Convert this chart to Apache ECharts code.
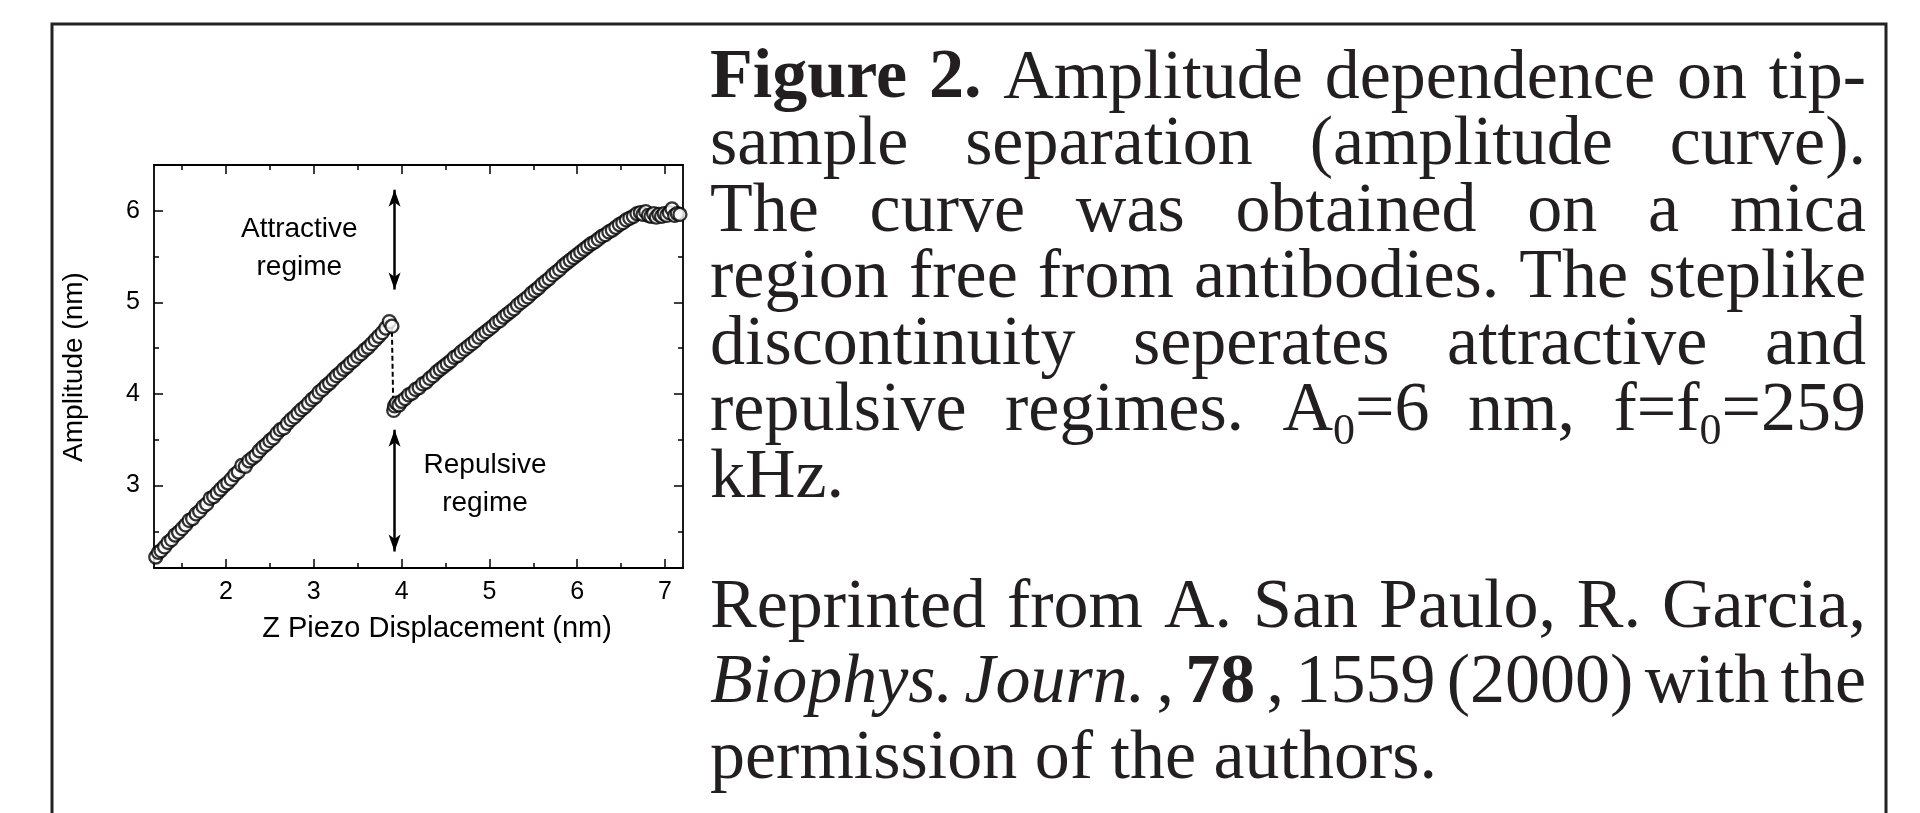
<!DOCTYPE html>
<html>
<head>
<meta charset="utf-8">
<title>Amplitude curve</title>
<script src="https://cdn.jsdelivr.net/npm/echarts@6/dist/echarts.min.js"></script>
<style>
html, body { margin: 0; padding: 0; background: #fff; }
#chart { width: 1920px; height: 813px; }
</style>
</head>
<body>
<div id="chart"></div>
<script>
// attractive branch (before the jump)
var attractX = [1.20, 1.23, 1.26, 1.30, 1.34, 1.38, 1.42, 1.46, 1.50, 1.54, 1.58, 1.62, 1.66, 1.70, 1.74, 1.78,
    1.82, 1.86, 1.90, 1.94, 1.98, 2.02, 2.06, 2.10, 2.14, 2.18, 2.22, 2.26, 2.30, 2.34, 2.38, 2.42, 2.46, 2.50,
    2.54, 2.58, 2.62, 2.66, 2.70, 2.74, 2.78, 2.82, 2.86, 2.90, 2.94, 2.98, 3.02, 3.06, 3.10, 3.14, 3.18, 3.22,
    3.26, 3.30, 3.34, 3.38, 3.42, 3.46, 3.50, 3.54, 3.58, 3.62, 3.66, 3.70, 3.74, 3.78, 3.82, 3.86, 3.89];
var attractY = [2.22, 2.27, 2.29, 2.33, 2.38, 2.41, 2.46, 2.49, 2.53, 2.57, 2.62, 2.64, 2.69, 2.72, 2.77, 2.80,
    2.86, 2.88, 2.92, 2.96, 3.00, 3.03, 3.07, 3.12, 3.15, 3.22, 3.21, 3.27, 3.30, 3.33, 3.38, 3.42, 3.45, 3.49,
    3.52, 3.57, 3.61, 3.63, 3.68, 3.72, 3.75, 3.79, 3.83, 3.86, 3.90, 3.94, 3.97, 4.02, 4.05, 4.09, 4.12, 4.16,
    4.20, 4.23, 4.27, 4.30, 4.34, 4.37, 4.41, 4.44, 4.48, 4.51, 4.55, 4.59, 4.63, 4.67, 4.72, 4.79, 4.74];

// repulsive branch (after the jump)
var repulseX = [3.91, 3.92, 3.94, 3.97, 4.00, 4.04, 4.08, 4.12, 4.16, 4.20, 4.24, 4.28, 4.32, 4.36, 4.40, 4.44,
    4.48, 4.52, 4.56, 4.60, 4.64, 4.68, 4.72, 4.76, 4.80, 4.84, 4.88, 4.92, 4.96, 5.00, 5.04, 5.08, 5.12, 5.16,
    5.20, 5.24, 5.28, 5.32, 5.36, 5.40, 5.44, 5.48, 5.52, 5.56, 5.60, 5.64, 5.68, 5.72, 5.76, 5.80, 5.84, 5.88,
    5.92, 5.96, 6.00, 6.04, 6.08, 6.12, 6.16, 6.20, 6.24, 6.28, 6.32, 6.36, 6.40, 6.44, 6.48, 6.52, 6.56, 6.60,
    6.64, 6.68, 6.72, 6.75, 6.78, 6.81, 6.84, 6.87, 6.90, 6.93, 6.96, 6.99, 7.02, 7.05, 7.08, 7.11, 7.14, 7.17];
var repulseY = [3.82, 3.87, 3.90, 3.88, 3.92, 3.95, 3.99, 4.01, 4.05, 4.07, 4.11, 4.13, 4.17, 4.20, 4.24, 4.27,
    4.30, 4.33, 4.36, 4.40, 4.42, 4.46, 4.49, 4.52, 4.55, 4.58, 4.62, 4.65, 4.68, 4.71, 4.74, 4.78, 4.80, 4.84,
    4.87, 4.90, 4.93, 4.97, 5.00, 5.03, 5.06, 5.10, 5.13, 5.16, 5.20, 5.23, 5.26, 5.30, 5.33, 5.36, 5.40, 5.43,
    5.46, 5.49, 5.52, 5.55, 5.58, 5.61, 5.64, 5.66, 5.69, 5.72, 5.74, 5.77, 5.79, 5.82, 5.85, 5.87, 5.90, 5.92,
    5.94, 5.97, 5.98, 5.96, 5.99, 5.95, 5.94, 5.97, 5.93, 5.96, 5.94, 5.97, 5.95, 5.98, 6.02, 5.95, 5.97, 5.96];

// dashed step between the two regimes
var jumpX = [3.89, 3.905];
var jumpY = [4.68, 3.87];

// double arrows
var arrowX = 3.92;
var arrowUp = [6.23, 5.14];
var arrowDown = [3.61, 2.28];

// annotations inside the plot
var noteText = ['Attractive\nregime', 'Repulsive\nregime'];
var noteX = [2.835, 4.95];
var noteY = [5.595, 3.01];

// axes
var X_MIN = 1.18, X_MAX = 7.205, Y_MIN = 2.1, Y_MAX = 6.5;
var xTicks = [2, 3, 4, 5, 6, 7];
var xMinor = [1.5, 2.5, 3.5, 4.5, 5.5, 6.5];
var yTicks = [3, 4, 5, 6];
var yMinor = [2.5, 3.5, 4.5, 5.5];
var xTitle = 'Z Piezo Displacement (nm)';
var yTitle = 'Amplitude (nm)';

// caption: *bold*, _italic_, {subscript}
var captionA = [
    '*Figure* *2.* Amplitude dependence on tip-',
    'sample separation (amplitude curve).',
    'The curve was obtained on a mica',
    'region free from antibodies. The steplike',
    'discontinuity seperates attractive and',
    'repulsive regimes. A{0}=6 nm, f=f{0}=259',
    'kHz.'
];
var captionB = [
    'Reprinted from A. San Paulo, R. Garcia,',
    '_Biophys._ _Journ._ , *78* , 1559 (2000) with the',
    'permission of the authors.'
];

function pairs(xs, ys) {
    return xs.map(function (x, i) { return [x, ys[i]]; });
}

var SANS = "'Liberation Sans', Arial, sans-serif";
var SERIF = "'Liberation Serif', 'Times New Roman', serif";
var tickStyle = {color: '#000', width: 1.5};

function xAxisCfg(grid, pos, values, len, main, labels) {
    return {
        gridIndex: grid, type: 'value', position: pos, min: X_MIN, max: X_MAX,
        axisLine: {show: main, lineStyle: {color: '#000', width: 1.8}},
        axisTick: {show: true, inside: true, length: len, customValues: values, lineStyle: tickStyle},
        axisLabel: labels ? {show: true, customValues: values, margin: 12, color: '#000',
            fontSize: 25, fontFamily: SANS} : {show: false},
        splitLine: {show: false}
    };
}
function yAxisCfg(grid, pos, values, len, main, labels) {
    return {
        gridIndex: grid, type: 'value', position: pos, min: Y_MIN, max: Y_MAX,
        axisLine: {show: main, lineStyle: {color: '#000', width: 1.8}},
        axisTick: {show: true, inside: true, length: len, customValues: values, lineStyle: tickStyle},
        axisLabel: labels ? {show: true, customValues: values, margin: 14, color: '#000',
            fontSize: 25, fontFamily: SANS} : {show: false},
        splitLine: {show: false}
    };
}

var circle = {color: '#fff', borderColor: '#000', borderWidth: 2.3};

var chart = echarts.init(document.getElementById('chart'));
chart.setOption({
    animation: false,
    backgroundColor: '#fff',
    grid: [
        {left: 154, top: 165, width: 529, height: 403},
        {left: 154, top: 165, width: 529, height: 403}
    ],
    xAxis: [
        xAxisCfg(0, 'bottom', xTicks, 9, true, true),
        xAxisCfg(0, 'top', xTicks, 9, true, false),
        xAxisCfg(1, 'bottom', xMinor, 5, false, false),
        xAxisCfg(1, 'top', xMinor, 5, false, false)
    ],
    yAxis: [
        yAxisCfg(0, 'left', yTicks, 9, true, true),
        yAxisCfg(0, 'right', yTicks, 9, true, false),
        yAxisCfg(1, 'left', yMinor, 5, false, false),
        yAxisCfg(1, 'right', yMinor, 5, false, false)
    ],
    series: [
        {
            type: 'line', xAxisIndex: 0, yAxisIndex: 0, z: 1,
            data: pairs(jumpX, jumpY), symbol: 'none',
            lineStyle: {color: '#000', width: 2, type: [5, 3]},
            markLine: {
                silent: true, symbol: ['arrow', 'arrow'], symbolSize: [9, 17],
                label: {show: false},
                lineStyle: {color: '#000', width: 2.5, type: 'solid'},
                data: [
                    [{coord: [arrowX, arrowUp[0]]}, {coord: [arrowX, arrowUp[1]]}],
                    [{coord: [arrowX, arrowDown[0]]}, {coord: [arrowX, arrowDown[1]]}]
                ]
            }
        },
        {
            type: 'scatter', xAxisIndex: 0, yAxisIndex: 0, z: 3, clip: false,
            symbol: 'circle', symbolSize: 13, itemStyle: circle,
            data: pairs(attractX, attractY)
        },
        {
            type: 'scatter', xAxisIndex: 0, yAxisIndex: 0, z: 3, clip: false,
            symbol: 'circle', symbolSize: 13, itemStyle: circle,
            data: pairs(repulseX, repulseY)
        }
    ]
});

// caption text, justified word by word
var ctx = document.createElement('canvas').getContext('2d');
var CAP = 70, SUB = 44;
function segStyle(k) {
    return {
        fontSize: k === 's' ? SUB : CAP,
        fontFamily: SERIF,
        fontWeight: k === 'b' ? 'bold' : 'normal',
        fontStyle: k === 'i' ? 'italic' : 'normal'
    };
}
function fontStr(st) {
    return st.fontStyle + ' ' + st.fontWeight + ' ' + st.fontSize + 'px ' + st.fontFamily;
}
function parseWord(w) {
    var segs = [], m;
    var re = /\*([^*]+)\*|_([^_]+)_|\{([^}]+)\}|([^*_{]+)/g;
    while ((m = re.exec(w))) {
        if (m[1]) segs.push({t: m[1], k: 'b'});
        else if (m[2]) segs.push({t: m[2], k: 'i'});
        else if (m[3]) segs.push({t: m[3], k: 's'});
        else segs.push({t: m[4], k: 'n'});
    }
    segs.forEach(function (s) {
        ctx.font = fontStr(segStyle(s.k));
        s.w = ctx.measureText(s.t).width;
    });
    return segs;
}
function layoutBlock(lines, base0, step, out) {
    var left = 710, right = 1866;
    ctx.font = fontStr(segStyle('n'));
    var space = ctx.measureText(' ').width;
    lines.forEach(function (line, li) {
        var words = line.split(' ').map(parseWord);
        var widths = words.map(function (s) {
            return s.reduce(function (a, b) { return a + b.w; }, 0);
        });
        var total = widths.reduce(function (a, b) { return a + b; }, 0);
        var last = li === lines.length - 1;
        var gap = last ? space : (right - left - total) / (words.length - 1);
        var x = left, base = base0 + li * step;
        words.forEach(function (segs, wi) {
            var sx = x;
            segs.forEach(function (s) {
                var st = segStyle(s.k);
                var b = s.k === 's' ? base + 12 : base;
                st.text = s.t;
                st.fill = '#231f20';
                st.align = 'left';
                st.verticalAlign = 'middle';
                out.push({type: 'text', x: sx, y: b - st.fontSize * 0.3375, silent: true, style: st});
                sx += s.w;
            });
            x += widths[wi] + gap;
        });
    });
}

var graphics = [
    {
        type: 'polyline', silent: true,
        shape: {points: [[52, 820], [52, 24], [1886, 24], [1886, 820]]},
        style: {stroke: '#222', lineWidth: 3, fill: null}
    },
    {
        type: 'text', x: 437, y: 629, silent: true,
        style: {text: xTitle, fontSize: 29, fontFamily: SANS, fill: '#000', align: 'center', verticalAlign: 'middle'}
    },
    {
        type: 'text', x: 74, y: 367, rotation: Math.PI / 2, silent: true,
        style: {text: yTitle, fontSize: 28, fontFamily: SANS, fill: '#000', align: 'center', verticalAlign: 'middle'}
    }
];
noteText.forEach(function (t, i) {
    var p = chart.convertToPixel({xAxisIndex: 0, yAxisIndex: 0}, [noteX[i], noteY[i]]);
    graphics.push({
        type: 'text', x: p[0], y: p[1], silent: true,
        style: {text: t, fontSize: 28, lineHeight: 38, fontFamily: SANS, fill: '#000',
            align: 'center', verticalAlign: 'middle'}
    });
});
layoutBlock(captionA, 103, 66.5, graphics);
layoutBlock(captionB, 632, 75.5, graphics);

chart.setOption({graphic: graphics});
</script>
</body>
</html>
